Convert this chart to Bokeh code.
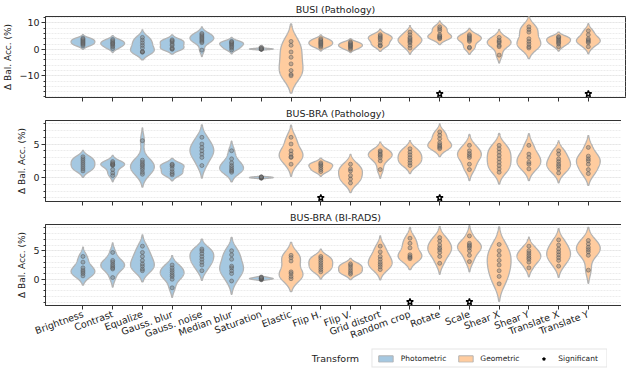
import numpy as np
from bokeh.plotting import figure
from bokeh.layouts import column
from bokeh.models import (Range1d, FixedTicker, CustomJSTickFormatter, Legend, LegendItem,
                          Label)
from bokeh.embed import file_html
from bokeh.resources import INLINE

# ---------------- data ----------------
transforms = ["Brightness", "Contrast", "Equalize", "Gauss. blur", "Gauss. noise",
              "Median blur", "Saturation", "Elastic", "Flip H.", "Flip V.",
              "Grid distort", "Random crop", "Rotate", "Scale", "Shear X",
              "Shear Y", "Translate X", "Translate Y"]
groups = ["Photometric"] * 7 + ["Geometric"] * 11

busi_path = [
    [1.3, 1.8, 2.2, 2.6, 3.0, 3.4, 3.8, 4.2],
    [0.3, 1.0, 1.5, 2.0, 2.3, 2.7, 3.2, 3.7],
    [-1.1, -1.0, -0.8, 0.5, 1.5, 2.5, 3.5, 4.5],
    [0.0, 0.2, 0.5, 1.5, 2.0, 2.8, 3.2, 3.6],
    [-0.3, 2.5, 3.0, 3.5, 4.0, 4.5, 5.0, 5.5, 6.0],
    [-0.2, 0.5, 1.0, 1.5, 2.0, 2.3, 2.7, 3.0],
    [0.0, 0.0, 0.1, 0.1, 0.2, 0.3, 0.8],
    [3.0, 1.5, -1.0, -3.0, -5.5, -8.0, -9.5, -10.0],
    [0.8, 1.3, 1.8, 2.2, 2.6, 3.0, 3.5, 4.0],
    [0.0, 0.5, 1.0, 1.3, 1.6, 2.0, 2.4, 2.8],
    [1.3, 1.5, 2.5, 3.5, 4.0, 4.5, 5.0, 5.5],
    [0.5, 1.5, 2.5, 3.0, 3.5, 4.0, 4.5, 5.5, 6.5],
    [4.0, 4.3, 4.7, 5.0, 5.5, 7.0, 7.8, 8.5],
    [0.5, 0.8, 3.0, 3.5, 4.0, 4.5, 5.0, 5.5],
    [-2.2, 1.0, 1.5, 2.5, 3.0, 3.5, 4.5],
    [0.5, 1.0, 2.0, 3.0, 4.0, 6.5, 7.5, 8.5],
    [1.0, 2.0, 2.5, 3.0, 3.5, 4.0, 4.5, 4.8],
    [1.0, 2.5, 3.0, 3.5, 4.0, 5.5, 7.0],
]
busi_path_sig = ["Rotate", "Translate Y"]

busbra_path = [
    [1.0, 1.3, 1.6, 1.9, 2.2, 2.5, 2.8, 3.1],
    [0.3, 0.7, 1.2, 1.8, 1.9, 2.0, 2.0, 2.2, 2.4],
    [0.5, 0.8, 1.2, 1.5, 1.8, 2.0, 2.3, 2.6, 5.5],
    [0.4, 0.6, 0.9, 1.3, 1.7, 1.9, 2.0],
    [1.8, 3.0, 3.5, 4.0, 4.5, 5.0, 6.0],
    [0.8, 1.0, 1.2, 1.5, 1.8, 2.2, 2.8, 4.0],
    [-0.1, -0.05, 0.0, 0.0, 0.05, 0.1, 0.12],
    [2.0, 3.0, 3.1, 3.5, 4.0, 5.0, 6.0],
    [0.9, 1.2, 1.5, 1.8, 2.0, 2.2],
    [-0.8, -0.2, 0.3, 1.0, 1.3, 2.0],
    [1.2, 2.5, 3.0, 3.3, 3.5, 3.8, 4.0],
    [1.8, 2.2, 2.6, 3.0, 3.4, 3.8, 4.3],
    [4.3, 4.5, 4.7, 4.9, 5.2, 5.8, 6.3, 6.8],
    [1.2, 2.0, 3.0, 3.3, 3.6, 4.0, 4.8],
    [0.8, 1.3, 1.8, 2.3, 2.8, 3.3, 3.8, 4.3, 4.8],
    [1.3, 2.0, 2.3, 3.0, 3.5, 4.8],
    [0.7, 1.3, 1.7, 2.0, 2.4, 2.8, 3.5, 4.0],
    [0.6, 1.2, 2.0, 2.5, 2.8, 3.2, 4.5],
]
busbra_path_sig = ["Flip H.", "Rotate"]

busbra_birads = [
    [0.6, 1.0, 1.3, 1.6, 2.0, 3.0, 4.0],
    [0.3, 1.8, 2.0, 2.3, 2.6, 3.0, 3.3, 4.7],
    [1.5, 1.8, 2.3, 2.7, 3.3, 4.0, 4.7, 5.8],
    [-1.5, 0.0, 0.5, 0.8, 1.2, 1.6, 2.0, 2.5],
    [1.5, 2.5, 3.0, 3.5, 4.0, 4.5, 5.0, 5.3],
    [-0.3, 1.0, 1.5, 2.0, 2.3, 3.5, 4.3, 5.0],
    [-0.1, 0.0, 0.05, 0.1, 0.15, 0.2, 0.3, 0.4],
    [0.1, 0.5, 1.0, 1.3, 3.2, 3.8, 4.2],
    [1.3, 1.7, 2.1, 2.5, 2.9, 3.3, 3.7, 4.0],
    [0.9, 1.2, 1.6, 2.0, 2.4, 2.7],
    [1.7, 2.2, 2.6, 3.0, 3.5, 4.0, 4.8, 5.8],
    [3.6, 3.8, 4.0, 4.3, 5.5, 6.3, 7.2],
    [2.8, 4.0, 4.7, 5.2, 5.5, 6.0, 6.7, 7.3],
    [3.1, 4.2, 5.0, 5.5, 5.8, 6.0, 6.3, 7.6],
    [-0.8, 0.5, 1.5, 2.5, 3.3, 4.2, 5.0, 6.1],
    [2.0, 3.0, 3.5, 3.8, 4.2, 4.6, 5.0, 5.8],
    [2.3, 3.3, 3.8, 4.3, 4.8, 5.3, 6.0, 6.9],
    [1.6, 4.2, 4.8, 5.2, 5.6, 6.2, 6.8],
]
busbra_birads_sig = ["Random crop", "Scale"]

panel_titles = ["BUSI (Pathology)", "BUS-BRA (Pathology)", "BUS-BRA (BI-RADS)"]
y_limits = [(-18.2, 12.4), (-3.55, 8.5), (-4.6, 9.6)]
y_major = [[-10, 0, 10], [0, 5], [0, 5]]
y_minor_step = [2, 1, 1]
x_title = "Transform"
legend_labels = ["Photometric", "Geometric", "Significant"]

# ---------------- style ----------------
FONT = "DejaVu Sans"
BLUE = "#a5c8e1"
ORANGE = "#ffcc9f"
EDGE = "#b3b3b3"
FRAME_W = 580
FRAME_H = 81
LEFT = 38
X_LO, X_HI = -1.26, len(transforms) - 1 + 1.25


def violin_outline(vals, center, half=0.4, cut=2.0, n=150):
    v = np.asarray(vals, float)
    bw = v.std(ddof=1) * len(v) ** (-0.2)
    grid = np.linspace(v.min() - cut * bw, v.max() + cut * bw, n)
    dens = np.exp(-0.5 * ((grid[:, None] - v[None, :]) / bw) ** 2).sum(1)
    w = half * dens / dens.max()
    xs = np.concatenate([center + w, (center - w)[::-1]])
    ys = np.concatenate([grid, grid[::-1]])
    return list(xs), list(ys)


def violins(data, grp):
    xs, ys = [], []
    for i, (vals, g) in enumerate(zip(data, groups)):
        if g == grp:
            vx, vy = violin_outline(vals, i)
            xs.append(vx)
            ys.append(vy)
    return xs, ys


def star_pos(sig, ylim):
    sx = [transforms.index(s) for s in sig]
    sy = [ylim[0] + 0.045 * (ylim[1] - ylim[0])] * len(sx)
    return sx, sy


def make_panel(title, data, sig, ylim, majors, mstep, last):
    p = figure(frame_width=FRAME_W, frame_height=FRAME_H,
               output_backend="svg", toolbar_location=None,
               x_range=Range1d(X_LO, X_HI), y_range=Range1d(*ylim),
               min_border_left=LEFT, min_border_right=3,
               min_border_top=0, min_border_bottom=(0 if last else 7))
    p.title.text = title
    p.title.align = "center"
    p.title.text_font = FONT
    p.title.text_font_size = "9.5px"
    p.title.text_font_style = "normal"
    p.title.text_color = "#222222"
    p.title.standoff = 3
    p.title.offset = 0

    p.outline_line_color = "#333333"
    p.outline_line_width = 1
    p.background_fill_color = "white"
    p.border_fill_color = "white"

    p.xgrid.grid_line_color = None
    p.ygrid.grid_line_color = "#e6e6e6"
    p.ygrid.grid_line_dash = "2 1"
    p.ygrid.minor_grid_line_color = "#ececec"
    p.ygrid.minor_grid_line_dash = "2 1"

    lo = int(np.floor(ylim[0]))
    hi = int(np.ceil(ylim[1]))
    minors = [t for t in range(lo, hi + 1) if t % mstep == 0]
    yt = FixedTicker(ticks=majors, minor_ticks=minors)
    p.yaxis.ticker = yt
    p.ygrid.ticker = yt
    p.yaxis.formatter = CustomJSTickFormatter(code="return String(tick).replace('-', '\u2212');")
    p.yaxis.axis_label = "\u0394 Bal. Acc. (%)"
    p.yaxis.axis_label_text_font = FONT
    p.yaxis.axis_label_text_font_size = "9px"
    p.yaxis.axis_label_text_font_style = "normal"
    p.yaxis.axis_label_text_color = "#222222"
    p.yaxis.axis_label_standoff = 3
    p.yaxis.major_label_text_font = FONT
    p.yaxis.major_label_text_font_size = "9.5px"
    p.yaxis.major_label_text_color = "#222222"
    p.yaxis.major_label_standoff = 2
    p.yaxis.major_tick_out = 4
    p.yaxis.major_tick_in = 0
    p.yaxis.minor_tick_out = 2
    p.yaxis.minor_tick_in = 0
    p.yaxis.axis_line_color = "#333333"
    p.yaxis.major_tick_line_color = "#333333"
    p.yaxis.minor_tick_line_color = "#333333"

    p.xaxis.ticker = FixedTicker(ticks=list(range(len(transforms))), minor_ticks=[])
    p.xaxis.major_tick_out = 4
    p.xaxis.major_tick_in = 0
    p.xaxis.axis_line_color = "#333333"
    p.xaxis.major_tick_line_color = "#333333"
    if last:
        p.xaxis.major_label_overrides = {i: t for i, t in enumerate(transforms)}
        p.xaxis.major_label_orientation = 0.35
        p.xaxis.major_label_text_font = FONT
        p.xaxis.major_label_text_font_size = "9.5px"
        p.xaxis.major_label_text_color = "#222222"
        p.xaxis.major_label_standoff = 4
    else:
        p.xaxis.major_label_text_font_size = "0px"
        p.xaxis.major_label_standoff = 0

    for grp, col in (("Photometric", BLUE), ("Geometric", ORANGE)):
        xs, ys = violins(data, grp)
        p.patches(xs, ys, fill_color=col, line_color=EDGE, line_width=1.3)

    px, py = [], []
    for i, vals in enumerate(data):
        px += [i] * len(vals)
        py += list(vals)
    p.scatter(px, py, size=4, fill_color="#7a7a7a", fill_alpha=0.45,
              line_color="#555555", line_alpha=0.6, line_width=0.8)

    sx, sy = star_pos(sig, ylim)
    p.scatter(sx, sy, marker="star", size=7, fill_color="white",
              line_color="black", line_width=1.4)
    return p


panels = []
datasets = [(busi_path, busi_path_sig), (busbra_path, busbra_path_sig),
            (busbra_birads, busbra_birads_sig)]
for k, (d, s) in enumerate(datasets):
    panels.append(make_panel(panel_titles[k], d, s, y_limits[k], y_major[k],
                             y_minor_step[k], k == 2))

# ---------- footer row: axis title + legend side by side ----------
# The footer's y range lies above every data value, so the legend renderers
# (which repeat the last panel's marks) stay out of view.
foot = figure(frame_width=FRAME_W, frame_height=20, output_backend="svg",
              toolbar_location=None, x_range=Range1d(X_LO, X_HI),
              y_range=Range1d(50, 51),
              x_axis_location=None, y_axis_location=None,
              min_border_left=LEFT, min_border_right=3, min_border_top=0,
              min_border_bottom=0)
foot.outline_line_color = None
foot.grid.visible = False
bx, by = violins(busbra_birads, "Photometric")
r_photo = foot.patches(bx, by, fill_color=BLUE, line_color=EDGE, line_width=1.0)
gx, gy = violins(busbra_birads, "Geometric")
r_geo = foot.patches(gx, gy, fill_color=ORANGE, line_color=EDGE, line_width=1.0)
sx, sy = star_pos(busbra_birads_sig, y_limits[2])
r_sig = foot.scatter(sx, sy, marker="star", size=6, fill_color="white",
                     line_color="black", line_width=1.2)
foot.add_layout(Label(x=(X_LO + X_HI) / 2, y=50.5, text=x_title, text_align="center",
                      text_baseline="middle", text_font=FONT, text_font_size="9.5px",
                      text_color="#222222"))
legend = Legend(items=[LegendItem(label=legend_labels[0], renderers=[r_photo]),
                       LegendItem(label=legend_labels[1], renderers=[r_geo]),
                       LegendItem(label=legend_labels[2], renderers=[r_sig])],
                orientation="horizontal", location="center_right")
legend.label_text_font = FONT
legend.label_text_font_size = "7.5px"
legend.label_text_color = "#222222"
legend.label_height = 8
legend.label_width = 44
legend.glyph_width = 18
legend.glyph_height = 8
legend.label_standoff = 6
legend.spacing = 10
legend.padding = 4
legend.margin = 0
legend.border_line_color = "#cccccc"
legend.border_line_width = 1
legend.background_fill_alpha = 1
foot.add_layout(legend)

layout = column(panels + [foot], spacing=0)
open("out.html", "w").write(file_html(layout, INLINE))
